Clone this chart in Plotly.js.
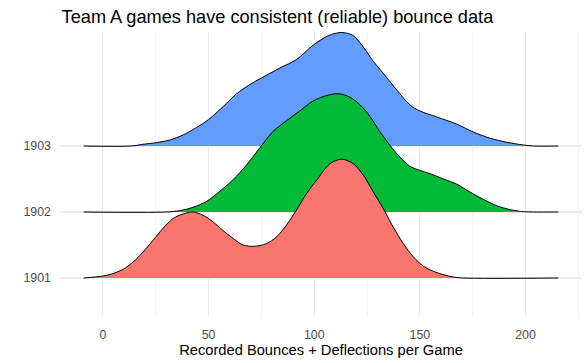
<!DOCTYPE html>
<html>
<head>
<meta charset="utf-8">
<script src="https://cdn.plot.ly/plotly-3.0.1.min.js"></script>
<style>html,body{margin:0;padding:0;background:#fff;}#chart{width:588px;height:363px;}</style>
</head>
<body>
<div id="chart"></div>
<script>
// Categories (years) and their ridge baselines
var years = ['1901', '1902', '1903'];
var yearPos = [1, 2, 3];

// Ridge values: x = bounces per game, h = scaled density height (in y-units)
var x1901 = [-9.1, 0, 4.7, 9.5, 14.2, 18.9, 23.7, 28.4, 33.2, 37.9, 42.6, 47.4, 52.1, 56.8, 61.6, 66.3, 71.8, 77.3, 82.1, 86.8, 91.6, 96.4, 101.1, 107.4, 113, 118.5, 123.2, 128, 132.7, 137.4, 142.2, 146.9, 151.6, 156.4, 161.1, 165.9, 170.6, 215.5];
var h1901 = [0, 0.03, 0.065, 0.13, 0.24, 0.39, 0.57, 0.75, 0.90, 0.97, 1.00, 0.95, 0.85, 0.72, 0.60, 0.50, 0.48, 0.52, 0.62, 0.80, 1.03, 1.28, 1.48, 1.73, 1.80, 1.73, 1.56, 1.30, 1.05, 0.77, 0.52, 0.32, 0.18, 0.10, 0.05, 0.015, 0, 0];

var x1902 = [-9.1, 29.7, 36.3, 42.6, 49, 55.2, 61.6, 67.9, 74.2, 80.5, 86.8, 93.1, 99.4, 106.5, 112, 116.8, 121.5, 126.3, 131, 135.8, 140.6, 145.4, 150, 154.8, 161.2, 167.5, 173.8, 180.1, 186.4, 192.8, 199, 203.8, 215.5];
var h1902 = [0, 0, 0.02, 0.07, 0.16, 0.31, 0.49, 0.71, 0.97, 1.22, 1.38, 1.53, 1.68, 1.77, 1.79, 1.74, 1.63, 1.45, 1.22, 1.01, 0.83, 0.69, 0.63, 0.58, 0.50, 0.42, 0.30, 0.19, 0.095, 0.035, 0.005, 0, 0];

var x1903 = [-9.1, 13.5, 19, 25.3, 31.6, 38, 44.3, 50, 57, 63.2, 69.5, 75, 83.7, 91.6, 99.6, 106.6, 113, 118.5, 123.2, 128, 132.7, 139, 145.4, 150, 158, 167.5, 175.4, 183.3, 191.2, 199, 203.8, 215.5];
var h1903 = [0, 0, 0.026, 0.05, 0.09, 0.167, 0.28, 0.40, 0.60, 0.79, 0.93, 1.03, 1.18, 1.31, 1.53, 1.67, 1.72, 1.67, 1.50, 1.28, 1.10, 0.85, 0.62, 0.53, 0.44, 0.33, 0.21, 0.117, 0.056, 0.015, 0, 0];

var colors = {'1901': '#F8766D', '1902': '#00BA38', '1903': '#619CFF'};

var ridges = [
  {year: '1903', pos: yearPos[2], x: x1903, h: h1903},
  {year: '1902', pos: yearPos[1], x: x1902, h: h1902},
  {year: '1901', pos: yearPos[0], x: x1901, h: h1901}
];

var traces = [];
ridges.forEach(function (r) {
  var xmin = r.x[0], xmax = r.x[r.x.length - 1];
  traces.push({
    type: 'scatter', mode: 'lines', x: [xmin, xmax], y: [r.pos, r.pos],
    line: {width: 0, color: 'rgba(0,0,0,0)'}, hoverinfo: 'skip', showlegend: false
  });
  traces.push({
    type: 'scatter', mode: 'lines', x: r.x,
    y: r.h.map(function (v) { return r.pos + v; }),
    fill: 'tonexty', fillcolor: colors[r.year],
    line: {color: '#000000', width: 1, shape: 'spline', smoothing: 0.9},
    name: r.year, showlegend: false
  });
});

var fontFam = '"Liberation Sans", Arial, sans-serif';
var layout = {
  width: 588, height: 363,
  margin: {l: 60, r: 6, t: 32, b: 46},
  paper_bgcolor: '#ffffff', plot_bgcolor: '#ffffff',
  showlegend: false,
  title: {
    text: 'Team A games have consistent (reliable) bounce data',
    font: {family: fontFam, size: 18.2, color: '#000000'},
    x: 0.003, xref: 'paper', xanchor: 'left',
    y: 0.955, yref: 'container', yanchor: 'middle'
  },
  xaxis: {
    range: [-20.3, 226.7], tick0: 0, dtick: 50,
    showgrid: true, gridcolor: '#EBEBEB', gridwidth: 1.1,
    minor: {dtick: 25, tick0: 0, showgrid: true, gridcolor: '#EBEBEB', gridwidth: 0.55},
    zeroline: false, showline: false, ticks: '',
    ticklabelstandoff: 9,
    tickfont: {family: fontFam, size: 12.4, color: '#4D4D4D'},
    title: {text: 'Recorded Bounces + Deflections per Game', font: {family: fontFam, size: 14.7, color: '#000000'}, standoff: 1}
  },
  yaxis: {
    range: [0.409, 4.727],
    tickvals: yearPos, ticktext: years,
    showgrid: true, gridcolor: '#EBEBEB', gridwidth: 1.1,
    zeroline: false, showline: false, ticks: '',
    ticklabelstandoff: 8,
    tickfont: {family: fontFam, size: 12.4, color: '#4D4D4D'}
  },
  font: {family: fontFam}
};

Plotly.newPlot('chart', traces, layout, {displayModeBar: false, staticPlot: true});
</script>
</body>
</html>
